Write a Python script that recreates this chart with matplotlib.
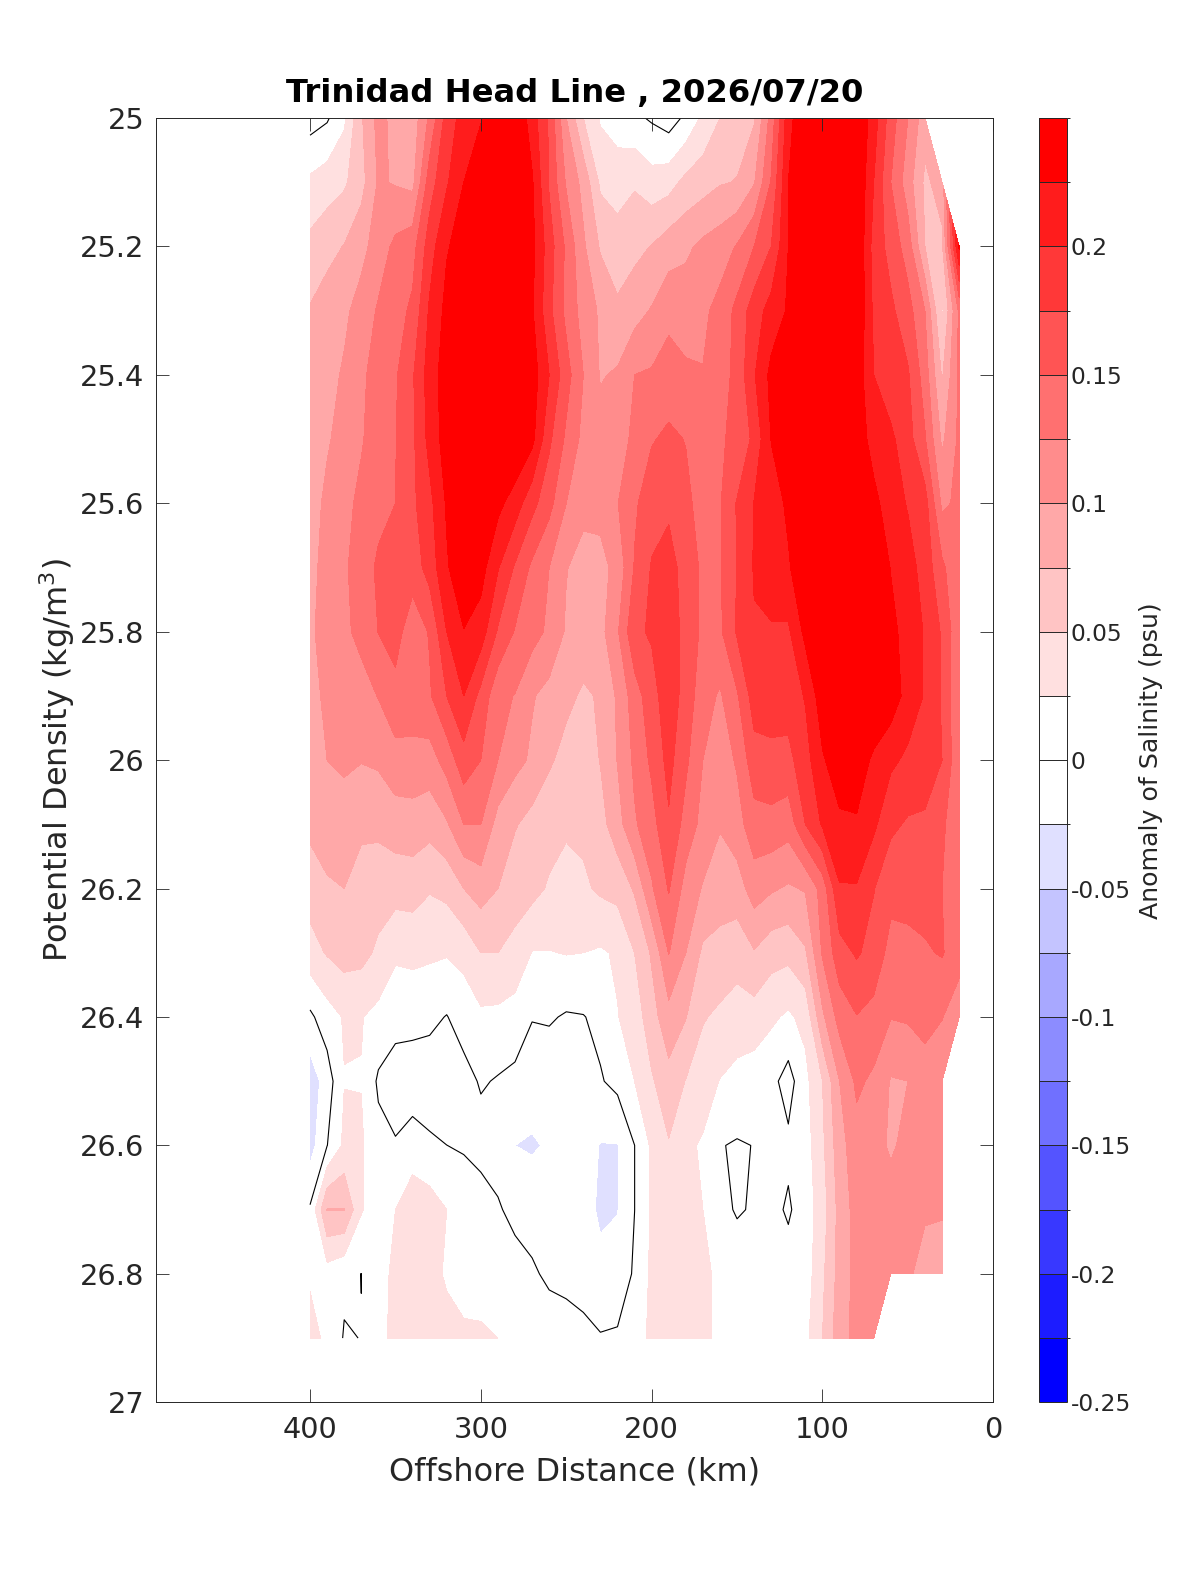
import numpy as np
import matplotlib
matplotlib.use("Agg")
import matplotlib.pyplot as plt
from matplotlib.colors import ListedColormap, BoundaryNorm

nan = float("nan")
# Offshore distance of each section column (km)
offshore = [400, 390, 380, 370, 360, 350, 340, 330, 320, 310,
            300, 290, 280, 270, 260, 250, 240, 230, 220, 210,
            200, 190, 180, 170, 160, 150, 140, 130, 120, 110,
            100, 90, 80, 70, 60, 50, 40, 30, 20]
density = [25.0, 25.1, 25.2, 25.3, 25.4, 25.5, 25.6, 25.7, 25.8, 25.9,
           26.0, 26.1, 26.2, 26.3, 26.4, 26.5, 26.6, 26.7, 26.8, 26.9]

# Salinity anomaly in 1/1000 psu, one list per density surface
s2500 = [-11,-3,20,72,108,92,85,130,185,211, 223,245,255,212,172,100,50,22,12,5, -3,-12,5,30,50,64,72,135,215,262, 265,265,262,212,162,125,85,nan,nan]
s2510 = [30,38,46,66,103,98,93,163,197,225, 245,262,255,228,172,122,92,45,40,47, 35,40,57,64,73,76,98,152,225,265, 265,265,265,200,150,112,70,85,nan]
s2520 = [57,67,76,92,112,131,140,188,223,235, 255,265,260,232,187,145,104,72,60,68, 76,88,95,106,113,127,150,175,225,265, 265,265,262,190,166,138,75,70,230]
s2530 = [77,87,95,110,128,140,155,204,232,240, 260,270,268,228,182,143,115,96,80,90, 102,118,114,120,133,157,188,210,228,265, 265,265,262,195,180,160,125,45,130]
s2540 = [83,92,103,120,136,147,172,212,238,250, 265,275,272,238,200,160,125,98,103,125, 128,136,129,126,138,158,198,232,245,270, 270,270,240,200,185,178,138,72,130]
s2550 = [85,97,110,123,136,149,170,208,237,252, 268,272,260,232,180,145,118,110,115,130, 148,155,149,135,149,152,182,226,250,270, 270,270,240,215,205,185,152,95,130]
s2560 = [88,106,119,130,141,150,170,193,228,242, 250,232,213,183,158,125,106,108,124,146, 165,170,156,140,148,177,201,212,230,262, 265,270,255,232,212,198,185,120,130]
s2570 = [90,112,122,135,155,150.5,162,185,222,245, 235,202,172,145,125,101,92,92,108,152, 177,185,165,145,147,176,202,210,222,245, 250,260,262,245,224,210,190,155,130]
s2580 = [95,112,120,132,150.5,160,135,152,200,224, 213,172,148,135,120,97,86,92,122,170, 178,192,165,145,146,178,198,198,196,232, 250,262,265,260,232,215,198,172,130]
s2590 = [92,105,110,115,126,142,140,147,175,200, 167,132,124,102,92,80,72,77,104,138, 165,190,165,135,122,147,187,188,186,202, 240,258,265,260,240,215,198,172,125]
s2600 = [92,100,104,101,104,116,116,114,135,165, 150,125,108,96,78,68,62,76,101,130, 155,183,155,125,112,128,165,168,168,190, 222,240,240,220,205,195,185,175,130]
s2610 = [81,86,89,82,80,87,89,84,97,125, 125,90,77,66,60,55,55,66,90,122, 140,172,140,117,102,115,140,142,135,175, 203,220,222,205,180,172,172,155,130]
s2620 = [61,72,75,60,62,60,61,52,57,75, 86,75,60,58,47,37,46,54,58,78, 122,152,115,98,86,88,112,103,97,102, 135,198,198,176,158,160,160,150,130]
s2630 = [40,52,60,58,45,29,31,29,27,32, 50,50,43,24,24,26,25,22,28,50, 78,126,100,70,67,60,73,60,57,72, 128,165,178,166,141,142,147,152,135]
s2640 = [-5,14,27,26,18,8.5,8,5.6,-1,11, 20,19,14,1,2.5,-2.3,-1,6,24,36, 65,91,76,52,45,39,39,29,21,32, 95,135,149,142,126,128,130,126,110]
s2650 = [-40,-13,24.3,24.3,-3.9,-12,-14,-14,-14,-9, 2.5,-2,-6,-12,-15,-12,-12,-2,7,25, 47,66,49,37,24,17,12,7,-10,18, 50,100,130,120,98,100,118,105,nan]
s2660 = [-36,-0.5,30,28,8,2,11.5,4,0.1,-2, -10,-12,-25,-28,-22,-15,-16,-26,-26,-0.1, 29,48,30,22,1,-2,0.5,2,5,14, 45,90,115,108,97,106,110,108,nan]
s2670 = [3,76,76,27,10,25,41,37,25,12, 14,3,-8,-9,-12,-15,-18,-28,-26,-0.1, 28,35,35,25,6,-2,2,6.7,-3,12, 38,84,110,108,110,110,104,103,nan]
s2680 = [22,14,5,-0.2,20,28,34,36,21,8, 5,5,12,3,-4,-7,-9,-20,-14,3, 30,32,33,28,22,12,10,10,10,12, 45,85,108,112,113,105,88,85,nan]
s2690 = [33,20,-2,0.46,16,33,35,35,36,32.5, 32,25,12,10,12,11,6,2,3,14, 30,30,30,30,20,12,12,12,12,18, 50,90,108,110,nan,nan,nan,nan,nan]

contour_levels = [round(-0.25 + 0.025 * i, 3) for i in range(21)]
cbar_ticks = [-0.25, -0.2, -0.15, -0.1, -0.05, 0, 0.05, 0.1, 0.15, 0.2]
cbar_labels = ["-0.25", "-0.2", "-0.15", "-0.1", "-0.05", "0", "0.05", "0.1", "0.15", "0.2"]
x_ticks = [400, 300, 200, 100, 0]
y_ticks = [25, 25.2, 25.4, 25.6, 25.8, 26, 26.2, 26.4, 26.6, 26.8, 27]
y_labels = ["25", "25.2", "25.4", "25.6", "25.8", "26", "26.2", "26.4", "26.6", "26.8", "27"]

sal = np.array([s2500, s2510, s2520, s2530, s2540, s2550, s2560, s2570, s2580, s2590,
                s2600, s2610, s2620, s2630, s2640, s2650, s2660, s2670, s2680, s2690], dtype=float) / 1000.0
sal = np.where(np.isnan(sal), np.nan, np.clip(sal, -0.2499, 0.2499))

colors = ["#0000ff", "#1c1cff", "#3838ff", "#5454ff", "#7070ff", "#8c8cff", "#a8a8ff", "#c4c4ff", "#e0e0ff",
          "#ffffff", "#ffffff",
          "#ffe0e0", "#ffc4c4", "#ffa8a8", "#ff8c8c", "#ff7070", "#ff5454", "#ff3838", "#ff1c1c", "#ff0000"]
cmap = ListedColormap(colors)
norm = BoundaryNorm(contour_levels, cmap.N)

W, H = 1200, 1575
dark = "#262626"
plt.rcParams["font.family"] = "DejaVu Sans"
fig = plt.figure(figsize=(W / 100, H / 100), dpi=100)
ax = fig.add_axes([156.3 / W, 1 - 1402.3 / H, (993.3 - 156.3) / W, (1402.3 - 118) / H])
cax = fig.add_axes([1039.3 / W, 1 - 1402.3 / H, (1066.7 - 1039.3) / W, (1402.3 - 118) / H])

cf = ax.contourf(offshore, density, sal, levels=contour_levels, cmap=cmap, norm=norm)
ax.contour(offshore, density, sal, levels=[0], colors="k", linewidths=0.8)

ax.set_xlim(490, 0)
ax.set_ylim(27, 25)
ax.set_xticks(x_ticks)
ax.set_yticks(y_ticks)
ax.set_yticklabels(y_labels)
ax.tick_params(direction="in", top=True, right=True, length=9.5, width=0.6,
               labelsize=20.8, colors=dark)
ax.tick_params(axis="x", pad=10)
ax.tick_params(axis="y", pad=8.5)
for sp in ax.spines.values():
    sp.set_linewidth(0.7)
    sp.set_color(dark)
ax.set_xlabel("Offshore Distance (km)", fontsize=23, color=dark, labelpad=9)
ax.set_ylabel(r"Potential Density (kg/m$^3$)", fontsize=23, color=dark, labelpad=2.5)
ax.set_title("Trinidad Head Line , 2026/07/20", fontsize=23.2, fontweight="bold", color="k", pad=11.5)

cb = fig.colorbar(cf, cax=cax, drawedges=True, spacing="proportional")
cb.dividers.set_color(dark)
cb.dividers.set_linewidth(0.7)
cb.outline.set_linewidth(0.7)
cb.outline.set_edgecolor(dark)
cb.set_ticks(cbar_ticks)
cb.set_ticklabels(cbar_labels)
cb.ax.tick_params(length=0, labelsize=16.8, colors=dark, pad=3)
cb.set_label("Anomaly of Salinity (psu)", fontsize=18.2, color=dark, labelpad=6)

fig.savefig("out.png", dpi=100, facecolor="white")
